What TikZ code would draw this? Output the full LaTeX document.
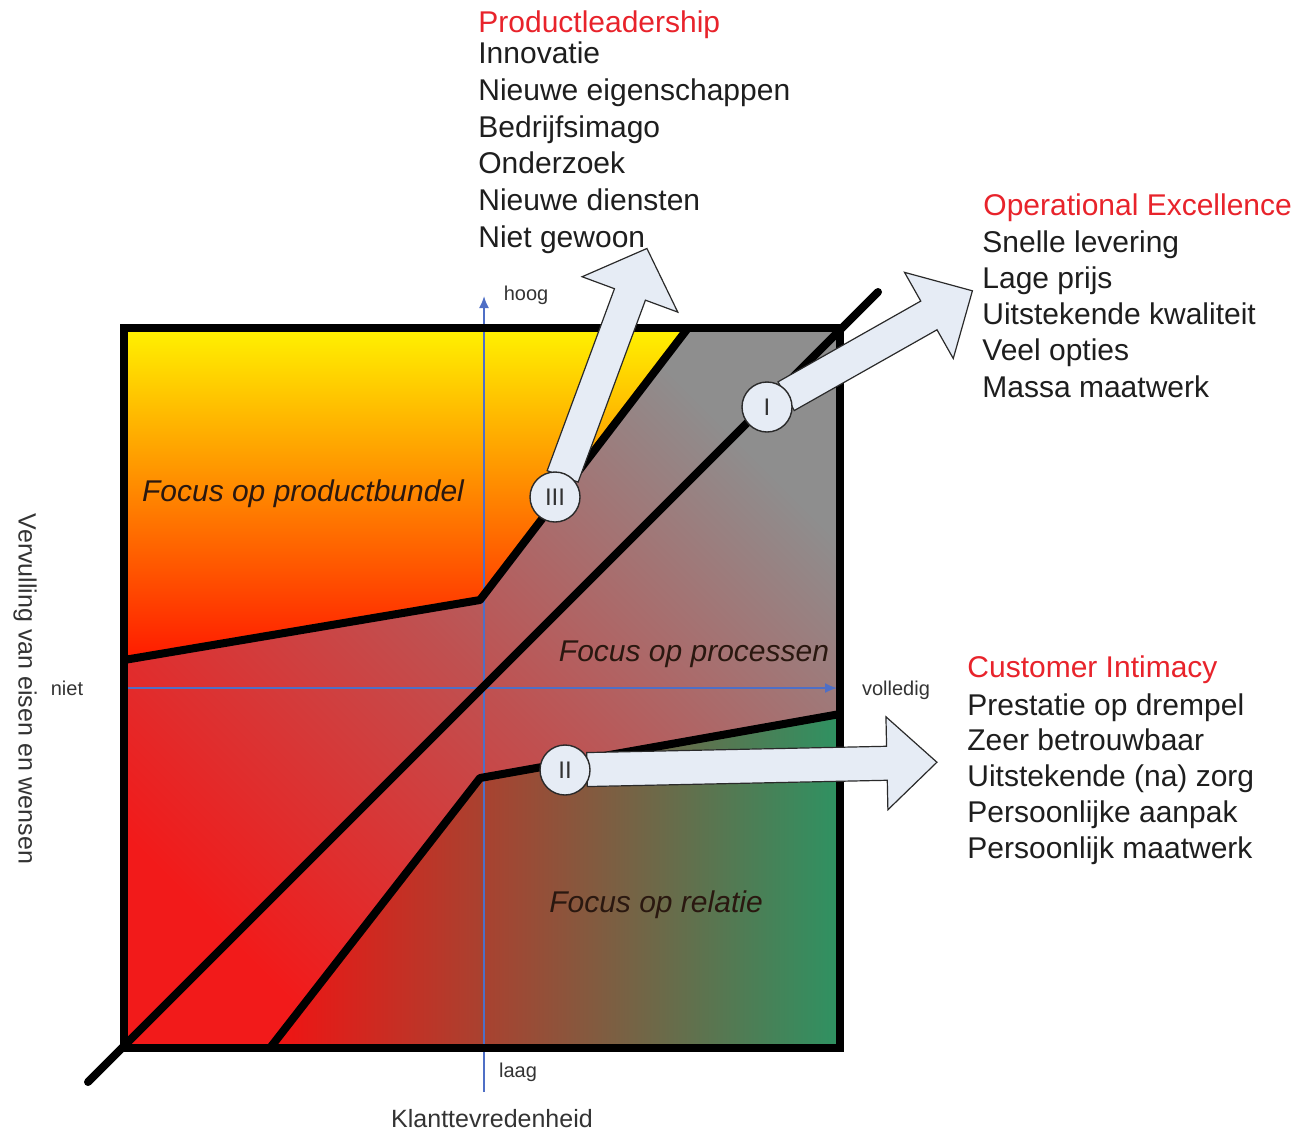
\documentclass[tikz,border=0pt]{standalone}
\usepackage{fontspec}
\setmainfont{Liberation Sans}
\usetikzlibrary{arrows.meta}

\definecolor{prodtop}{HTML}{FFF200}
\definecolor{prodbot}{HTML}{FF1A00}
\definecolor{bandred}{HTML}{F21A1A}
\definecolor{bandmid}{HTML}{C05050}
\definecolor{bandgray}{HTML}{8E8E8E}
\definecolor{relred}{HTML}{F21212}
\definecolor{relgreen}{HTML}{2E9262}
\definecolor{axisblue}{HTML}{4F6FC6}
\definecolor{arrowfill}{HTML}{E6ECF5}
\definecolor{outline}{HTML}{2A2A2A}
\definecolor{badgetext}{HTML}{333333}
\definecolor{headred}{HTML}{E8232B}
\definecolor{bodytext}{HTML}{1E1E1E}
\definecolor{zonetext}{HTML}{2A1810}
\definecolor{labeltext}{HTML}{333333}

\begin{document}
\begin{tikzpicture}[x=0.5pt, y=-0.5pt,
  thickline/.style={line width=4pt, line cap=round, line join=round},
  frame/.style={line width=4pt, line join=miter},
  axisline/.style={draw=axisblue, line width=0.9pt, -{Latex[length=6pt,width=5pt]}},
  blockarrow/.style={fill=arrowfill, draw=outline, line width=0.6pt, line join=miter},
  badge/.style={circle, minimum size=25pt, inner sep=0pt, fill=arrowfill, draw=outline,
    line width=0.7pt, text=badgetext, font=\fontsize{12}{12}\selectfont},
  zonelabel/.style={anchor=base, inner sep=0pt, text=zonetext, font=\fontsize{15}{18}\selectfont\itshape},
  headline/.style={anchor=base west, inner sep=0pt, text=headred, font=\fontsize{15}{18}\selectfont},
  listline/.style={anchor=base west, inner sep=0pt, text=bodytext, font=\fontsize{15}{18}\selectfont},
  axislabel/.style={anchor=base, inner sep=0pt, text=labeltext, font=\fontsize{10}{12}\selectfont},
  axistitle/.style={inner sep=0pt, text=labeltext, font=\fontsize{12.5}{15}\selectfont}
]
\useasboundingbox (0,0) rectangle (1299,1131);

% square corners
\coordinate (S1) at (124,328);
\coordinate (S2) at (840,328);
\coordinate (S3) at (840,1048);
\coordinate (S4) at (124,1048);
% upper boundary (product bundle zone)
\coordinate (U1) at (124,660);
\coordinate (U2) at (480,600);
\coordinate (U3) at (688,328);
% lower boundary (relation zone)
\coordinate (L1) at (270,1048);
\coordinate (L2) at (480,778);
\coordinate (L3) at (840,714);
% main diagonal
\coordinate (D1) at (88,1082);
\coordinate (D2) at (878,292);
% axes
\coordinate (Vbot) at (484,1092);
\coordinate (Vtop) at (484,296);
\coordinate (Hleft) at (124,688);
\coordinate (Hright) at (837,688);
% badge centres
\coordinate (cI) at (767,407);
\coordinate (cII) at (565,770);
\coordinate (cIII) at (555,497);

% zones
\shade[top color=prodtop, bottom color=prodbot] (S1) -- (U3) -- (U2) -- (U1) -- cycle;
\shade[top color=bandgray, bottom color=bandred, middle color=bandmid, shading angle=-45]
  (U1) -- (U2) -- (U3) -- (S2) -- (L3) -- (L2) -- (L1) -- (S4) -- cycle;
\shade[left color=relred, right color=relgreen] (L1) -- (L2) -- (L3) -- (S3) -- cycle;

% axes
\draw[axisline] (Vbot) -- (Vtop);
\draw[axisline] (Hleft) -- (Hright);

% boundaries
\draw[thickline] (U1) -- (U2) -- (U3);
\draw[thickline] (L1) -- (L2) -- (L3);
\draw[thickline] (D1) -- (D2);
\draw[frame] (S1) rectangle (S3);

% zone names
\node[zonelabel] (zprod) at (303,501) {Focus op productbundel};
\node[zonelabel] (zproc) at (694,661) {Focus op processen};
\node[zonelabel] (zrel) at (656,912) {Focus op relatie};

% block arrows
\begin{scope}[shift={(cIII)}, rotate=69.7]
  \draw[blockarrow] (22,-16.5) -- (216,-16.5) -- (216,-51) -- (265,0) -- (216,51) -- (216,16.5) -- (22,16.5) -- cycle;
\end{scope}
\begin{scope}[shift={(cI)}, rotate=29.5]
  \draw[blockarrow] (22,-16.5) -- (186,-16.5) -- (186,-49.5) -- (236,0) -- (186,49.5) -- (186,16.5) -- (22,16.5) -- cycle;
\end{scope}
\begin{scope}[shift={(cII)}, rotate=1.2]
  \draw[blockarrow] (22,-17) -- (322,-17) -- (322,-46.5) -- (372,0) -- (322,46.5) -- (322,17) -- (22,17) -- cycle;
\end{scope}

% badges
\node[badge] (bI) at (cI) {I};
\node[badge] (bII) at (cII) {II};
\node[badge] (bIII) at (cIII) {III};

% axis labels
\node[axislabel] (lhoog) at (526,300) {hoog};
\node[axislabel] (llaag) at (518,1077) {laag};
\node[axislabel] (lniet) at (67,695) {niet};
\node[axislabel] (lvol) at (896,695) {volledig};
\node[axistitle, anchor=base] (tx) at (492,1127) {Klanttevredenheid};
\node[axistitle, rotate=-90] (ty) at (25,689) {Vervulling van eisen en wensen};

% strategy lists
\node[headline] (hPL) at (478,32) {Productleadership};
\foreach \t [count=\i from 0] in {Innovatie, Nieuwe eigenschappen, Bedrijfsimago, Onderzoek, Nieuwe diensten, Niet gewoon}
  \node[listline, name=pl\i] at (478,{63.5+\i*36.8}) {\t};

\node[headline] (hOE) at (983,215) {Operational Excellence};
\foreach \t [count=\i from 0] in {Snelle levering, Lage prijs, Uitstekende kwaliteit, Veel opties, Massa maatwerk}
  \node[listline, name=oe\i] at (982,{252+\i*36.25}) {\t};

\node[headline] (hCI) at (967,677) {Customer Intimacy};
\foreach \t [count=\i from 0] in {Prestatie op drempel, Zeer betrouwbaar, Uitstekende (na) zorg, Persoonlijke aanpak, Persoonlijk maatwerk}
  \node[listline, name=ci\i] at (967,{715+\i*35.75}) {\t};

\end{tikzpicture}
\end{document}
